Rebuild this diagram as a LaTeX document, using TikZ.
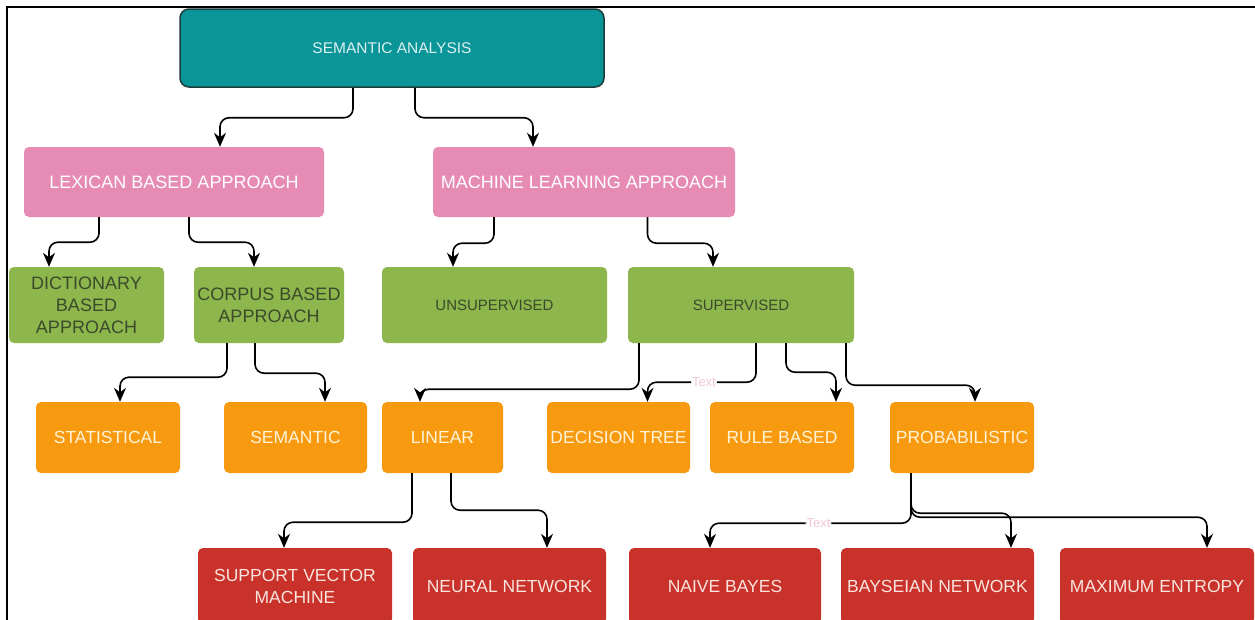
\documentclass[tikz,border=0pt]{standalone}
\usepackage{fontspec}
\setmainfont{Liberation Sans}
\usetikzlibrary{arrows.meta}

\definecolor{tealbox}{HTML}{0A9599}
\definecolor{tealedge}{HTML}{1D3B3C}
\definecolor{tealtext}{HTML}{DDEFF0}
\definecolor{pinkbox}{HTML}{E68BB4}
\definecolor{greenbox}{HTML}{8DB64C}
\definecolor{greentext}{HTML}{3C4A2C}
\definecolor{orangebox}{HTML}{F89A10}
\definecolor{orangetext}{HTML}{FFF3D8}
\definecolor{redbox}{HTML}{C8322A}
\definecolor{redtext}{HTML}{F9E4DE}
\definecolor{tagpink}{HTML}{F2C6DA}

\begin{document}
\begin{tikzpicture}[x=1pt,y=-1pt,
    box/.style={rectangle,rounded corners=5pt,inner sep=0pt,align=center},
    root/.style={box,fill=tealbox,draw=tealedge,line width=1.5pt,rounded corners=9pt,text=tealtext,font=\fontsize{15.5}{18}\selectfont},
    approach/.style={box,fill=pinkbox,text=white,minimum height=70pt,font=\fontsize{18}{22}\selectfont},
    method/.style={box,fill=greenbox,text=greentext,minimum height=76pt,font=\fontsize{18}{22}\selectfont},
    family/.style={box,fill=orangebox,text=orangetext,minimum height=71pt,font=\fontsize{17.5}{21}\selectfont},
    model/.style={box,fill=redbox,text=redtext,minimum height=76pt,font=\fontsize{17.5}{22}\selectfont},
    link/.style={line width=1.6pt,rounded corners=9pt,-{Stealth[length=14pt,width=12pt]}},
    tag/.style={text=tagpink,fill=white,inner sep=1pt,font=\fontsize{13}{15}\selectfont}]
  \useasboundingbox (0,0) rectangle (1255,619);
  \draw[line width=2pt] (7,640) -- (7,7) -- (1270,7);

  \node[root,minimum width=424pt,minimum height=78pt] (sa) at (392,48) {SEMANTIC ANALYSIS};
  \node[approach,minimum width=300pt] (lex) at (174,182) {LEXICAN BASED APPROACH};
  \node[approach,minimum width=302pt] (ml) at (584,182) {MACHINE LEARNING APPROACH};
  \node[method,minimum width=155pt] (dict) at (86.5,305) {DICTIONARY\\BASED\\APPROACH};
  \node[method,minimum width=150pt] (corp) at (269,305) {CORPUS BASED\\APPROACH};
  \node[method,minimum width=225pt,font=\fontsize{15}{18}\selectfont] (unsup) at (494.5,305) {UNSUPERVISED};
  \node[method,minimum width=226pt,font=\fontsize{15}{18}\selectfont] (sup) at (741,305) {SUPERVISED};
  \node[family,minimum width=144pt] (stat) at (108,437.5) {STATISTICAL};
  \node[family,minimum width=143pt] (sem) at (295.5,437.5) {SEMANTIC};
  \node[family,minimum width=121pt] (lin) at (442.5,437.5) {LINEAR};
  \node[family,minimum width=143pt] (dt) at (618.5,437.5) {DECISION TREE};
  \node[family,minimum width=144pt] (rb) at (782,437.5) {RULE BASED};
  \node[family,minimum width=144pt] (prob) at (962,437.5) {PROBABILISTIC};
  \node[model,minimum width=194pt] (svm) at (295,586) {SUPPORT VECTOR\\MACHINE};
  \node[model,minimum width=193pt] (nn) at (509.5,586) {NEURAL NETWORK};
  \node[model,minimum width=192pt] (nb) at (725,586) {NAIVE BAYES};
  \node[model,minimum width=193pt] (bn) at (937.5,586) {BAYSEIAN NETWORK};
  \node[model,minimum width=194pt] (me) at (1157,586) {MAXIMUM ENTROPY};

  \draw[link] ([xshift=-39pt]sa.south) -- ++(0,30) -| ([xshift=46pt]lex.north);
  \draw[link] ([xshift=23pt]sa.south) -- ++(0,30) -| ([xshift=-51pt]ml.north);
  \draw[link] ([xshift=-75pt]lex.south) -- ++(0,25) -| ([xshift=-37.5pt]dict.north);
  \draw[link] ([xshift=15pt]lex.south) -- ++(0,25) -| ([xshift=-15pt]corp.north);
  \draw[link] ([xshift=-90pt]ml.south) -- ++(0,26) -| ([xshift=-41.5pt]unsup.north);
  \draw[link] ([xshift=63.5pt]ml.south) -- ++(0,26) -| ([xshift=-28pt]sup.north);
  \draw[link] ([xshift=-42pt]corp.south) -- ++(0,34) -| ([xshift=12pt]stat.north);
  \draw[link] ([xshift=-14pt]corp.south) -- ++(0,30) -| ([xshift=29.5pt]sem.north);
  \draw[link] ([xshift=-102pt]sup.south) -- ++(0,46) -| ([xshift=-22.5pt]lin.north);
  \draw[link] ([xshift=15pt]sup.south) -- ++(0,39) -| node[tag,pos=0.24]{Text} ([xshift=29pt]dt.north);
  \draw[link] ([xshift=45pt]sup.south) -- ++(0,29) -| ([xshift=54pt]rb.north);
  \draw[link] ([xshift=105pt]sup.south) -- ++(0,42) -| ([xshift=13pt]prob.north);
  \draw[link] ([xshift=-30.5pt]lin.south) -- ++(0,49) -| ([xshift=-11pt]svm.north);
  \draw[link] ([xshift=8.5pt]lin.south) -- ++(0,37) -| ([xshift=37.5pt]nn.north);
  \draw[link] ([xshift=-51pt]prob.south) -- ++(0,50) -| node[tag,pos=0.23]{Text} ([xshift=-15pt]nb.north);
  \draw[link] ([xshift=-51pt]prob.south) -- ++(0,40) -| ([xshift=73.5pt]bn.north);
  \draw[link] ([xshift=-51pt]prob.south) -- ++(0,44) -| ([xshift=50pt]me.north);
\end{tikzpicture}
\end{document}
